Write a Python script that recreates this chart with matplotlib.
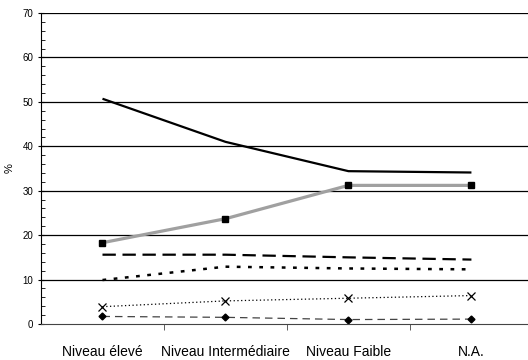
import matplotlib
matplotlib.use("Agg")
import matplotlib.pyplot as plt
from matplotlib.ticker import MultipleLocator

plt.rcParams['font.family'] = ['Liberation Sans', 'DejaVu Sans']

categories = ["Niveau élevé", "Niveau Intermédiaire", "Niveau Faible", "N.A."]
s_solid = [50.7, 41.0, 34.4, 34.1]
s_gray_sq = [18.3, 23.7, 31.2, 31.2]
s_longdash = [15.6, 15.6, 15.0, 14.5]
s_dots = [9.9, 12.9, 12.5, 12.3]
s_x = [3.9, 5.2, 5.8, 6.4]
s_diamond = [1.7, 1.5, 1.0, 1.1]
yticks = [0, 10, 20, 30, 40, 50, 60, 70]

fig = plt.figure(figsize=(5.28, 3.6), dpi=100)
ax = fig.add_axes([41/528, 36/360, (528-41)/528, (324-13)/360])
x = list(range(len(categories)))

ax.plot(x, s_solid, color='black', lw=1.6, solid_capstyle='butt')
ax.plot(x, s_gray_sq, color='#a0a0a0', lw=2.3, marker='s', ms=5, mfc='black', mec='black')
ax.plot(x, s_longdash, color='black', lw=1.6, dashes=(6, 3))
ax.plot(x, s_dots, color='black', lw=1.8, dashes=(1.5, 3))
ax.plot(x, s_x, color='black', lw=0.9, dashes=(1, 2), marker='x', ms=6, mew=0.9)
ax.plot(x, s_diamond, color='#444444', lw=0.9, dashes=(6, 4), marker='D', ms=3.5, mfc='black', mec='black')

ax.set_xlim(-0.5, 3.46)
ax.set_ylim(0, 70)
ax.set_yticks(yticks)
ax.yaxis.set_minor_locator(MultipleLocator(2))
for yv in yticks[1:]:
    ax.axhline(yv, color='black', lw=0.9, zorder=0)
ax.set_xticks(x)
ax.set_xticklabels(categories, fontsize=10)
ax.set_xticks([0.5, 1.5, 2.5], minor=True)
ax.tick_params(axis='x', which='major', length=0, pad=15)
ax.tick_params(axis='x', which='minor', length=4, direction='out', color='#444444')
ax.tick_params(axis='y', which='major', length=4, direction='inout', labelsize=7)
ax.tick_params(axis='y', which='minor', length=3, direction='in')
ax.spines['top'].set_visible(False)
ax.spines['right'].set_visible(False)
ax.spines['bottom'].set_color('#444444')
ax.set_ylabel('%', fontsize=8)
ax.yaxis.set_label_coords(-26/487, 0.5)
fig.savefig('out.png', dpi=100)
